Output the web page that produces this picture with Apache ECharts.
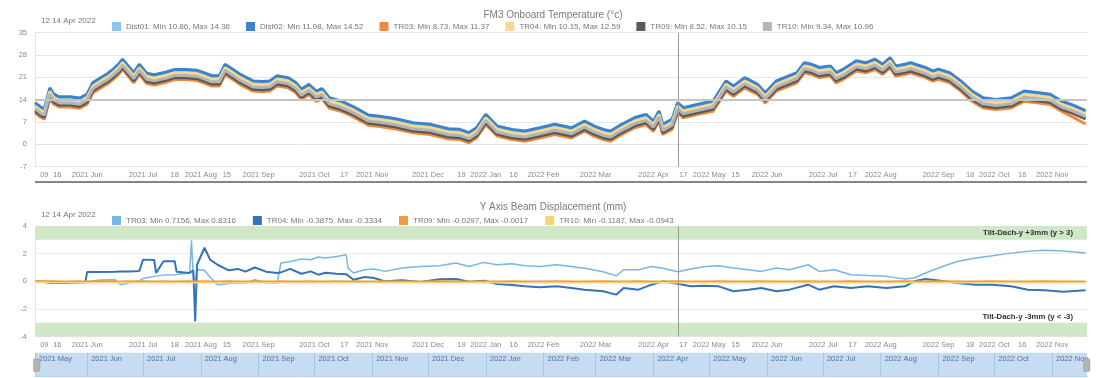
<!DOCTYPE html>
<html><head><meta charset="utf-8">
<script src="https://cdn.jsdelivr.net/npm/echarts@6/dist/echarts.min.js"></script>
<style>html,body{margin:0;padding:0;background:#fff}#c{width:1106px;height:378px}</style>
</head><body><div id="c"></div>
<script>
// ---------- DATA ----------
const tempDates = ['2021-05-04','2021-05-07','2021-05-09','2021-05-12','2021-05-14','2021-05-17','2021-05-23','2021-05-28','2021-06-01','2021-06-04',
'2021-06-08','2021-06-12','2021-06-15','2021-06-18','2021-06-20','2021-06-23','2021-06-26','2021-06-29','2021-07-03','2021-07-07',
'2021-07-13','2021-07-18','2021-07-24','2021-07-30','2021-08-02','2021-08-07','2021-08-11','2021-08-14','2021-08-18','2021-08-22',
'2021-08-29','2021-09-03','2021-09-07','2021-09-11','2021-09-17','2021-09-21','2021-09-24','2021-09-28','2021-10-02','2021-10-05',
'2021-10-09','2021-10-15','2021-10-21','2021-10-26','2021-10-30','2021-11-05','2021-11-13','2021-11-23','2021-12-02','2021-12-12',
'2021-12-18','2021-12-23','2021-12-27','2022-01-01','2022-01-04','2022-01-07','2022-01-15','2022-01-22','2022-01-30','2022-02-07',
'2022-02-16','2022-02-23','2022-02-28','2022-03-05','2022-03-09','2022-03-15','2022-03-22','2022-03-28','2022-04-01','2022-04-04',
'2022-04-06','2022-04-11','2022-04-14','2022-04-17','2022-04-25','2022-05-03','2022-05-10','2022-05-14','2022-05-20','2022-05-27',
'2022-05-31','2022-06-06','2022-06-17','2022-06-21','2022-06-25','2022-06-29','2022-07-05','2022-07-08','2022-07-12','2022-07-19',
'2022-07-24','2022-07-29','2022-08-02','2022-08-06','2022-08-09','2022-08-14','2022-08-17','2022-08-25','2022-08-29','2022-09-01',
'2022-09-07','2022-09-13','2022-09-19','2022-09-25','2022-10-02','2022-10-10','2022-10-17','2022-10-25','2022-10-31','2022-11-06',
'2022-11-12','2022-11-19'];

const tDist01 = [12.6,11.2,10.6,17.2,15.3,14.4,14.4,14.0,15.3,18.8,
20.3,21.7,23.1,24.7,26.2,24.1,22.0,24.6,21.8,21.3,
22.1,23.0,23.0,22.7,22.1,21.0,21.0,24.6,23.1,21.5,
19.4,19.2,19.4,21.0,20.4,18.9,16.8,18.3,16.2,17.0,
14.1,13.1,11.6,10.0,8.7,8.3,7.6,6.3,5.8,4.4,
4.2,3.2,4.7,8.9,7.1,5.3,4.2,3.7,4.7,5.8,
4.7,6.8,5.3,4.2,3.7,5.8,7.9,8.9,6.8,10.0,
5.8,7.4,12.6,11.0,12.1,13.1,19.4,17.8,20.4,18.3,
15.7,19.4,22.0,25.1,24.6,23.6,24.1,22.0,23.1,25.7,
25.1,26.2,24.6,26.7,24.1,24.6,25.1,23.6,22.5,23.1,
22.0,19.4,16.2,14.1,13.6,14.1,16.2,15.7,15.2,13.1,
11.9,10.1];
const tDist02 = [13.1,11.7,11.1,17.7,15.8,14.9,14.9,14.5,15.8,19.3,
20.8,22.2,23.6,25.2,26.7,24.6,22.5,25.1,22.3,21.8,
22.6,23.5,23.5,23.2,22.6,21.5,21.5,25.1,23.6,22.0,
19.9,19.7,19.9,21.5,20.9,19.4,17.3,18.8,16.7,17.5,
14.6,13.6,12.1,10.5,9.2,8.8,8.1,6.8,6.3,4.9,
4.7,3.7,5.2,9.4,7.6,5.8,4.7,4.2,5.2,6.3,
5.2,7.3,5.8,4.7,4.2,6.3,8.4,9.4,7.3,10.5,
6.3,7.9,13.1,11.5,12.6,13.6,19.9,18.3,20.9,18.8,
16.2,19.9,22.5,25.6,25.1,24.1,24.6,22.5,23.6,26.2,
25.6,26.7,25.1,27.2,24.6,25.1,25.6,24.1,23.0,23.6,
22.5,19.9,16.7,14.6,14.1,14.6,16.7,16.2,15.7,13.6,
12.4,10.6];
const tTR03 = [9.9,8.5,7.9,14.5,12.6,11.7,11.7,11.3,12.6,16.1,
17.6,19.0,20.4,22.0,23.5,21.4,19.3,21.9,19.1,18.6,
19.4,20.3,20.3,20.0,19.4,18.3,18.3,21.9,20.4,18.8,
16.7,16.5,16.7,18.3,17.7,16.2,14.1,15.6,13.5,14.3,
11.4,10.4,8.9,7.3,6.0,5.6,4.9,3.6,3.1,1.7,
1.5,0.5,2.0,6.2,4.4,2.6,1.5,1.0,2.0,3.1,
2.0,4.1,2.6,1.5,1.0,3.1,5.2,6.2,4.1,7.3,
3.1,4.7,9.9,8.3,9.4,10.4,16.7,15.1,17.7,15.6,
13.0,16.7,19.3,22.4,21.9,20.9,21.4,19.3,20.4,23.0,
22.4,23.5,21.9,24.0,21.4,21.9,22.4,20.9,19.8,20.4,
19.3,16.7,13.5,11.4,10.9,11.4,13.5,13.0,12.5,10.4,
8.6,6.4];
const tTR04 = [12.0,10.6,10.0,16.6,14.7,13.8,13.8,13.4,14.7,18.2,
19.7,21.1,22.5,24.1,25.6,23.5,21.4,24.0,21.2,20.7,
21.5,22.4,22.4,22.1,21.5,20.4,20.4,24.0,22.5,20.9,
18.8,18.6,18.8,20.4,19.8,18.3,16.2,17.7,15.6,16.4,
13.5,12.5,11.0,9.4,8.1,7.7,7.0,5.7,5.2,3.8,
3.6,2.6,4.1,8.3,6.5,4.7,3.6,3.1,4.1,5.2,
4.1,6.2,4.7,3.6,3.1,5.2,7.3,8.3,6.2,9.4,
5.2,6.8,12.0,10.4,11.5,12.5,18.8,17.2,19.8,17.7,
15.1,18.8,21.4,24.5,24.0,23.0,23.5,21.4,22.5,25.1,
24.5,25.6,24.0,26.1,23.5,24.0,24.5,23.0,21.9,22.5,
21.4,18.8,15.6,13.5,13.0,13.5,15.6,15.1,14.6,12.5,
11.3,9.5];
const tTR09 = [10.5,9.1,8.5,15.1,13.2,12.3,12.3,11.9,13.2,16.7,
18.2,19.6,21.0,22.6,24.1,22.0,19.9,22.5,19.7,19.2,
20.0,20.9,20.9,20.6,20.0,18.9,18.9,22.5,21.0,19.4,
17.3,17.1,17.3,18.9,18.3,16.8,14.7,16.2,14.1,14.9,
12.0,11.0,9.5,7.9,6.6,6.2,5.5,4.2,3.7,2.3,
2.1,1.1,2.6,6.8,5.0,3.2,2.1,1.6,2.6,3.7,
2.6,4.7,3.2,2.1,1.6,3.7,5.8,6.8,4.7,7.9,
3.7,5.3,10.5,8.9,10.0,11.0,17.3,15.7,18.3,16.2,
13.6,17.3,19.9,23.0,22.5,21.5,22.0,19.9,21.0,23.6,
23.0,24.1,22.5,24.6,22.0,22.5,23.0,21.5,20.4,21.0,
19.9,17.3,14.1,12.0,11.5,12.0,14.1,13.6,13.1,11.0,
9.8,8.0];
const tTR10 = [11.2,9.8,9.2,15.8,13.9,13.0,13.0,12.6,13.9,17.4,
18.9,20.3,21.7,23.3,24.8,22.7,20.6,23.2,20.4,19.9,
20.7,21.6,21.6,21.3,20.7,19.6,19.6,23.2,21.7,20.1,
18.0,17.8,18.0,19.6,19.0,17.5,15.4,16.9,14.8,15.6,
12.7,11.7,10.2,8.6,7.3,6.9,6.2,4.9,4.4,3.0,
2.8,1.8,3.3,7.5,5.7,3.9,2.8,2.3,3.3,4.4,
3.3,5.4,3.9,2.8,2.3,4.4,6.5,7.5,5.4,8.6,
4.4,6.0,11.2,9.6,10.7,11.7,18.0,16.4,19.0,16.9,
14.3,18.0,20.6,23.7,23.2,22.2,22.7,20.6,21.7,24.3,
23.7,24.8,23.2,25.3,22.7,23.2,23.7,22.2,21.1,21.7,
20.6,18.0,14.8,12.7,12.2,12.7,14.8,14.3,13.8,11.7,
10.5,8.7];

const dispDates = ['2021-05-04','2021-05-12','2021-05-20','2021-05-28','2021-05-31','2021-06-01','2021-06-08','2021-06-16','2021-06-19','2021-06-24',
'2021-06-29','2021-07-01','2021-07-07','2021-07-08','2021-07-12','2021-07-18','2021-07-19','2021-07-26','2021-07-27','2021-07-28',
'2021-07-29','2021-07-30','2021-08-03','2021-08-06','2021-08-10','2021-08-16','2021-08-21','2021-08-25','2021-08-30','2021-09-05',
'2021-09-11','2021-09-13','2021-09-18','2021-09-24','2021-09-29','2021-10-03','2021-10-07','2021-10-13','2021-10-18','2021-10-19',
'2021-10-22','2021-10-28','2021-11-02','2021-11-08','2021-11-17','2021-11-27','2021-12-07','2021-12-16','2021-12-23','2021-12-31',
'2022-01-07','2022-01-15','2022-01-22','2022-01-30','2022-02-08','2022-02-16','2022-02-23','2022-03-05','2022-03-12','2022-03-16',
'2022-03-24','2022-03-31','2022-04-06','2022-04-14','2022-04-21','2022-04-29','2022-05-06','2022-05-14','2022-05-22','2022-05-29',
'2022-06-06','2022-06-13','2022-06-23','2022-06-29','2022-07-07','2022-07-16','2022-07-25','2022-08-04','2022-08-14','2022-08-19',
'2022-08-25','2022-09-01','2022-09-11','2022-09-21','2022-09-30','2022-10-10','2022-10-19','2022-10-28','2022-11-07','2022-11-19'];

const dTR03 = [0.02,-0.05,-0.05,-0.03,-0.05,-0.05,0.1,0.12,-0.24,-0.1,
0.05,0.2,0.36,0.4,0.45,0.48,0.5,0.6,2.96,0.2,
-0.07,0.84,0.8,0.3,-0.24,-0.15,-0.1,-0.12,0.12,-0.1,
-0.12,1.32,1.44,1.61,1.56,1.76,1.69,1.8,1.93,0.96,
0.6,0.84,0.9,0.72,0.96,1.08,1.13,1.32,1.08,1.37,
1.2,1.27,1.13,1.08,1.2,1.08,0.95,0.7,0.4,0.84,
0.84,1.08,0.95,0.7,0.9,1.08,1.13,0.96,0.84,0.72,
0.96,0.84,1.2,0.72,0.84,0.48,0.43,0.36,0.17,0.24,
0.6,0.96,1.44,1.69,1.85,2.04,2.17,2.24,2.2,2.05];
const dTR04 = [0.02,-0.1,-0.12,-0.08,-0.06,0.68,0.68,0.7,0.72,0.72,
0.75,1.57,1.55,0.6,1.45,1.45,0.7,0.6,0.7,0.8,
-2.89,1.2,2.43,1.57,1.2,0.8,0.9,0.7,1.0,0.7,
0.6,0.65,0.9,0.55,0.72,0.48,0.62,0.55,0.52,0.58,
0.12,0.31,0.24,0.0,0.08,-0.05,0.15,0.17,-0.02,0.05,
-0.19,-0.26,-0.36,-0.43,-0.36,-0.48,-0.6,-0.72,-0.96,-0.48,
-0.6,-0.24,0.0,-0.17,-0.36,-0.31,-0.36,-0.72,-0.6,-0.48,
-0.72,-0.6,-0.24,-0.6,-0.36,-0.48,-0.36,-0.48,-0.36,0.0,
0.17,0.07,-0.12,-0.24,-0.24,-0.36,-0.6,-0.65,-0.75,-0.65];
const dTR09 = [0.0,-0.01,-0.02,-0.01,-0.02,-0.02,-0.01,-0.02,-0.02,-0.01,
-0.02,-0.01,-0.02,-0.02,-0.01,-0.02,-0.02,-0.01,-0.02,-0.03,
-0.02,-0.02,-0.01,-0.02,-0.02,-0.01,-0.02,-0.02,-0.01,-0.02,
-0.02,-0.01,-0.02,-0.02,-0.01,-0.02,-0.02,-0.01,-0.02,-0.02,
-0.01,-0.02,-0.02,-0.01,-0.02,-0.02,-0.01,-0.02,-0.03,-0.02,
-0.02,-0.01,-0.02,-0.02,-0.01,-0.02,-0.02,-0.01,-0.02,-0.02,
-0.01,-0.02,-0.02,-0.01,-0.02,-0.02,-0.01,-0.02,-0.02,-0.01,
-0.02,-0.02,-0.01,-0.02,-0.02,-0.01,-0.02,-0.02,-0.01,-0.02,
-0.02,-0.01,-0.02,-0.02,-0.01,-0.02,-0.02,-0.01,-0.02,-0.02];
const dTR10 = [-0.02,-0.08,-0.1,-0.09,-0.1,-0.1,-0.11,-0.1,-0.09,-0.1,
-0.1,-0.11,-0.1,-0.1,-0.09,-0.1,-0.11,-0.1,-0.1,-0.1,
-0.11,-0.1,-0.09,-0.1,-0.1,-0.11,-0.1,-0.1,-0.09,-0.1,
-0.1,-0.11,-0.1,-0.1,-0.09,-0.1,-0.11,-0.1,-0.1,-0.09,
-0.1,-0.11,-0.1,-0.1,-0.09,-0.1,-0.11,-0.1,-0.1,-0.09,
-0.1,-0.11,-0.1,-0.1,-0.09,-0.1,-0.11,-0.1,-0.1,-0.09,
-0.1,-0.11,-0.1,-0.1,-0.09,-0.1,-0.11,-0.1,-0.1,-0.09,
-0.1,-0.11,-0.1,-0.1,-0.09,-0.1,-0.11,-0.1,-0.1,-0.09,
-0.1,-0.11,-0.1,-0.1,-0.09,-0.1,-0.11,-0.1,-0.1,-0.1];

const tempNames = ['Dist01: Min 10.86, Max 14.36','Dist02: Min 11.08, Max 14.52','TR03: Min 8.73, Max 11.37','TR04: Min 10.15, Max 12.59','TR09: Min 8.52, Max 10.15','TR10: Min 9.34, Max 10.96'];
const dispNames = ['TR03: Min 0.7156, Max 0.8316','TR04: Min -0.3875, Max -0.3334','TR09: Min -0.0297, Max -0.0017','TR10: Min -0.1187, Max -0.0943'];
const cursorLabel = '12 14 Apr 2022';
const cursorDate = '2022-04-14';
const cursorTemp = 14;

const xTickDates = ['2021-05-09','2021-05-16','2021-06-01','2021-07-01','2021-07-18','2021-08-01','2021-08-15','2021-09-01','2021-10-01','2021-10-17',
'2021-11-01','2021-12-01','2021-12-19','2022-01-01','2022-01-16','2022-02-01','2022-03-01','2022-04-01','2022-04-17','2022-05-01',
'2022-05-15','2022-06-01','2022-07-01','2022-07-17','2022-08-01','2022-09-01','2022-09-18','2022-10-01','2022-10-16','2022-11-01'];
const xTickLabels = ['09','16','2021 Jun','2021 Jul','18','2021 Aug','15','2021 Sep','2021 Oct','17',
'2021 Nov','2021 Dec','19','2022 Jan','16','2022 Feb','2022 Mar','2022 Apr','17','2022 May',
'15','2022 Jun','2022 Jul','17','2022 Aug','2022 Sep','18','2022 Oct','16','2022 Nov'];
const navTickDates = ['2021-05-04','2021-06-01','2021-07-01','2021-08-01','2021-09-01','2021-10-01','2021-11-01','2021-12-01','2022-01-01','2022-02-01',
'2022-03-01','2022-04-01','2022-05-01','2022-06-01','2022-07-01','2022-08-01','2022-09-01','2022-10-01','2022-11-01'];
const navTickLabels = ['2021 May','2021 Jun','2021 Jul','2021 Aug','2021 Sep','2021 Oct','2021 Nov','2021 Dec','2022 Jan','2022 Feb',
'2022 Mar','2022 Apr','2022 May','2022 Jun','2022 Jul','2022 Aug','2022 Sep','2022 Oct','2022 Nov'];
const axisStart = '2021-05-04';
const axisEnd = '2022-11-19';

// ---------- STYLE ----------
const tempColors = ['#8cc6ee','#3d82cc','#ee8a3c','#f5d98e','#5a5a5a','#b4b4b4'];
const dispColors = ['#78b6e6','#3672ba','#f19a45','#f5d47a'];
const FONT = '"Liberation Sans", Arial, sans-serif';

function ts(s){const p=s.split('-').map(Number);return Date.UTC(p[0],p[1]-1,p[2]);}
const xMin = ts(axisStart);
const xMax = ts(axisEnd) + 18*3600e3;
const cursorTs = ts(cursorDate) + 12*3600e3;
const tickMap = {}; xTickDates.forEach((d,i)=>tickMap[ts(d)] = xTickLabels[i]);
const navMap = {}; navTickDates.forEach((d,i)=>navMap[ts(d)] = navTickLabels[i]);
const tempSeriesData = [tDist01,tDist02,tTR03,tTR04,tTR09,tTR10];
const dispSeriesData = [dTR03,dTR04,dTR09,dTR10];

function xAxisCfg(gi){
  return {type:'value', gridIndex:gi, min:xMin, max:xMax, scale:true,
    axisLine:{show:true, lineStyle:{color:'#e3e3e3'}}, axisTick:{show:false},
    splitLine:{show:false},
    axisLabel:{customValues:xTickDates.map(ts), formatter:v=>tickMap[v]||'', color:'#8a8a8a', fontSize:7.5, fontFamily:FONT, margin:4, hideOverlap:false}};
}

const series = [];
tempSeriesData.forEach((arr,i)=>{
  const s = {type:'line', name:tempNames[i], xAxisIndex:0, yAxisIndex:0, symbol:'none', showSymbol:false,
    data:arr.map((v,k)=>[ts(tempDates[k]), v]), lineStyle:{width:3, color:tempColors[i]}, itemStyle:{color:tempColors[i]}, z:3};
  if(i===0){
    s.markLine = {silent:true, symbol:'none', label:{show:false}, animation:false,
      data:[{xAxis:cursorTs, lineStyle:{color:'#9a9a9a', width:1, type:'solid'}},
            {yAxis:cursorTemp, lineStyle:{color:'#c4c4c4', width:2, type:'solid'}}]};
  }
  series.push(s);
});
dispSeriesData.forEach((arr,i)=>{
  const widths = [1.5,2,2.5,1.5];
  const s = {type:'line', name:dispNames[i], xAxisIndex:1, yAxisIndex:1, symbol:'none', showSymbol:false,
    data:arr.map((v,k)=>[ts(dispDates[k]), v]), lineStyle:{width:widths[i], color:dispColors[i]}, itemStyle:{color:dispColors[i]}, z:3};
  if(i===0){
    s.markArea = {silent:true, itemStyle:{color:'#d0e8c8'},
      label:{color:'#333', fontSize:7.8, fontWeight:'bold', fontFamily:FONT},
      data:[
        [{name:'Tilt-Dach-y +3mm (y > 3)', yAxis:3, label:{position:'insideRight', distance:14}},{yAxis:4}],
        [{name:'Tilt-Dach-y -3mm (y < -3)', yAxis:-4, label:{position:['100%',0], align:'right', verticalAlign:'bottom', offset:[-14,-2]}},{yAxis:-3}]
      ]};
    s.markLine = {silent:true, symbol:'none', label:{show:false}, animation:false,
      data:[{xAxis:cursorTs, lineStyle:{color:'#9a9a9a', width:1, type:'solid'}}]};
  }
  series.push(s);
});

const option = {
  animation:false,
  backgroundColor:'#fff',
  textStyle:{fontFamily:FONT},
  title:[
    {text:'FM3 Onboard Temperature (°c)', left:'center', top:5, textStyle:{fontSize:10, fontWeight:'normal', color:'#7a7a7a', fontFamily:FONT}},
    {text:'Y Axis Beam Displacement (mm)', left:'center', top:197, textStyle:{fontSize:10, fontWeight:'normal', color:'#7a7a7a', fontFamily:FONT}}
  ],
  legend:[
    {data:tempNames, left:107, top:17, itemWidth:9, itemHeight:9, itemGap:16, icon:'rect', selectedMode:false,
      textStyle:{fontSize:8, color:'#777', fontFamily:FONT}},
    {data:dispNames, left:107, top:211, itemWidth:9, itemHeight:9, itemGap:17, icon:'rect', selectedMode:false,
      textStyle:{fontSize:8, color:'#777', fontFamily:FONT}}
  ],
  graphic:[
    {type:'text', left:41, top:17, style:{text:cursorLabel, fill:'#777', fontSize:8, fontFamily:FONT}},
    {type:'text', left:41, top:211, style:{text:cursorLabel, fill:'#777', fontSize:8, fontFamily:FONT}},
    {type:'rect', shape:{x:35, y:181, width:1052, height:2}, style:{fill:'#858585'}}
  ],
  grid:[
    {left:35, right:19, top:32.7, height:134, outerBoundsMode:'none'},
    {left:35, right:19, top:226, height:110.7, outerBoundsMode:'none'},
    {left:35, right:19, top:352.7, height:23.3, show:true, backgroundColor:'#c6dcf1', borderWidth:0, outerBoundsMode:'none'}
  ],
  xAxis:[
    xAxisCfg(0),
    xAxisCfg(1),
    {type:'value', gridIndex:2, min:xMin, max:xMax, scale:true, position:'top',
      axisLine:{show:true, lineStyle:{color:'#b5cfe9'}},
      axisTick:{show:false, customValues:navTickDates.map(ts)},
      splitLine:{show:true, lineStyle:{color:'#a9c6e5', width:1}},
      axisLabel:{inside:true, customValues:navTickDates.map(ts), formatter:v=>navMap[v]||'', align:'left', padding:[0,0,0,4],
        margin:2, color:'#51729f', fontSize:7.5, fontFamily:FONT, showMinLabel:true, hideOverlap:false}}
  ],
  yAxis:[
    {type:'value', gridIndex:0, min:-7, max:35, interval:7,
      axisLine:{show:true, lineStyle:{color:'#e3e3e3'}}, axisTick:{show:false},
      splitLine:{lineStyle:{color:'#e6e6e6'}},
      axisLabel:{color:'#8a8a8a', fontSize:7.5, fontFamily:FONT, margin:8}},
    {type:'value', gridIndex:1, min:-4, max:4, interval:2,
      axisLine:{show:true, lineStyle:{color:'#e3e3e3'}}, axisTick:{show:false},
      splitLine:{lineStyle:{color:'#ececec'}},
      axisLabel:{color:'#8a8a8a', fontSize:7.5, fontFamily:FONT, margin:8}},
    {type:'value', gridIndex:2, show:false}
  ],
  dataZoom:[
    {type:'slider', xAxisIndex:[0,1], filterMode:'none', start:0, end:100,
      left:35, right:19, top:352.7, height:23.3,
      backgroundColor:'rgba(0,0,0,0)', borderColor:'rgba(0,0,0,0)', fillerColor:'rgba(0,0,0,0)',
      showDataShadow:false, showDetail:false, brushSelect:false, moveHandleSize:0,
      handleIcon:'path://M2,0 L8,0 Q10,0 10,2 L10,18 Q10,20 8,20 L2,20 Q0,20 0,18 L0,2 Q0,0 2,0 Z',
      handleSize:'55%', handleStyle:{color:'#b3b3b3', borderColor:'#9a9a9a', borderWidth:0.5},
      dataBackground:{lineStyle:{opacity:0}, areaStyle:{opacity:0}},
      selectedDataBackground:{lineStyle:{opacity:0}, areaStyle:{opacity:0}}}
  ],
  series:series
};
const chart = echarts.init(document.getElementById('c'), null, {renderer:'canvas'});
chart.setOption(option);
</script></body></html>
